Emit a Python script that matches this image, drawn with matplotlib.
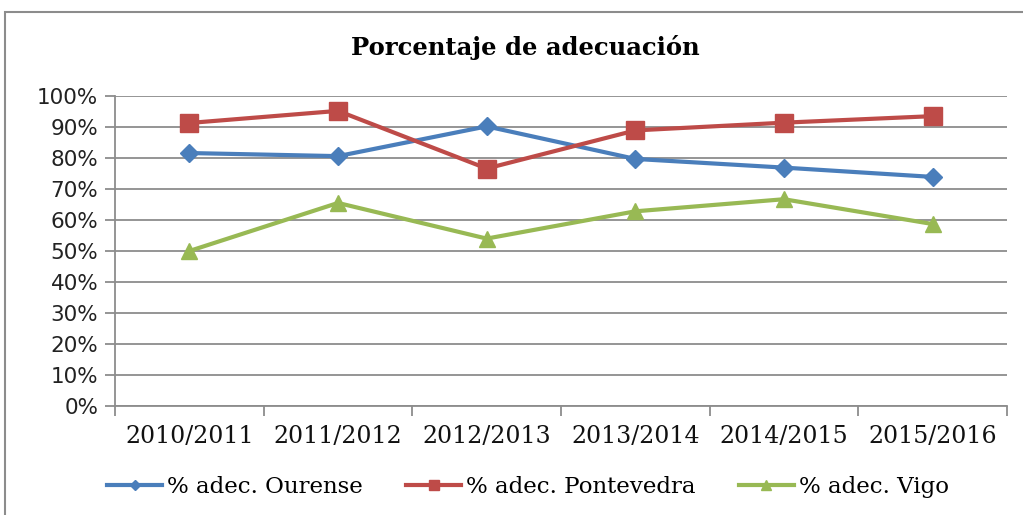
import matplotlib
matplotlib.use("Agg")
import matplotlib.pyplot as plt
from matplotlib.patches import Rectangle

categories = ["2010/2011", "2011/2012", "2012/2013", "2013/2014", "2014/2015", "2015/2016"]
ourense = [81.6, 80.6, 90.2, 79.7, 76.9, 73.9]
pontevedra = [91.3, 95.2, 76.6, 88.9, 91.4, 93.5]
vigo = [50.0, 65.5, 54.0, 62.8, 66.7, 58.7]
yticks = [0, 10, 20, 30, 40, 50, 60, 70, 80, 90, 100]
ytick_labels = [f"{v}%" for v in yticks]
title = "Porcentaje de adecuación"
labels = ["% adec. Ourense", "% adec. Pontevedra", "% adec. Vigo"]

fig = plt.figure(figsize=(10.23, 5.15), dpi=100)
fig.patch.set_facecolor("white")
fig.patches.append(Rectangle((5/1023, -0.1), 1.2, 1 - 12/515 + 0.1, transform=fig.transFigure,
                             fill=False, edgecolor="#8c8c8c", linewidth=1.5))

ax = fig.add_axes([115/1023, 1 - 406/515, (1007 - 115)/1023, (406 - 96)/515])
x = list(range(len(categories)))
grid_c = "#8c8c8c"

ax.plot(x, ourense, color="#4A7EBB", lw=3, marker="D", ms=9, label=labels[0], zorder=3)
ax.plot(x, pontevedra, color="#BE4B48", lw=3, marker="s", ms=13, label=labels[1], zorder=3)
ax.plot(x, vigo, color="#98B954", lw=3, marker="^", ms=12, label=labels[2], zorder=3)

ax.set_xlim(-0.5, len(categories) - 0.5)
ax.set_ylim(0, 100)
ax.set_yticks(yticks)
ax.set_yticklabels(ytick_labels, fontsize=15.5, family="DejaVu Sans", color="#222222")
ax.set_xticks([i - 0.5 for i in range(len(categories) + 1)])
ax.set_xticklabels([])
ax.set_xticks(x, minor=True)
ax.set_xticklabels(categories, minor=True, fontsize=17, family="DejaVu Serif", color="#111111")
ax.tick_params(axis="x", which="minor", length=0, pad=14)
ax.tick_params(axis="x", which="major", length=7, color=grid_c, width=1.3)
ax.tick_params(axis="y", length=7, color=grid_c, width=1.3, pad=5)
ax.yaxis.grid(True, color=grid_c, lw=1.3)
ax.set_axisbelow(True)
for s in ["top", "right"]:
    ax.spines[s].set_visible(False)
for s in ["left", "bottom"]:
    ax.spines[s].set_color(grid_c)
    ax.spines[s].set_linewidth(1.3)

fig.text(525/1023, 1 - 48/515, title, ha="center", va="center", fontsize=17.5,
         fontweight="bold", family="DejaVu Serif")

fig.legend(loc="center", bbox_to_anchor=(528/1023, 1 - 487/515), ncol=3, frameon=False,
           prop={"family": "DejaVu Serif", "size": 16.5}, handlelength=2.4, columnspacing=1.9,
           handletextpad=0.2, markerscale=0.6)

fig.savefig("out.png", dpi=100)
